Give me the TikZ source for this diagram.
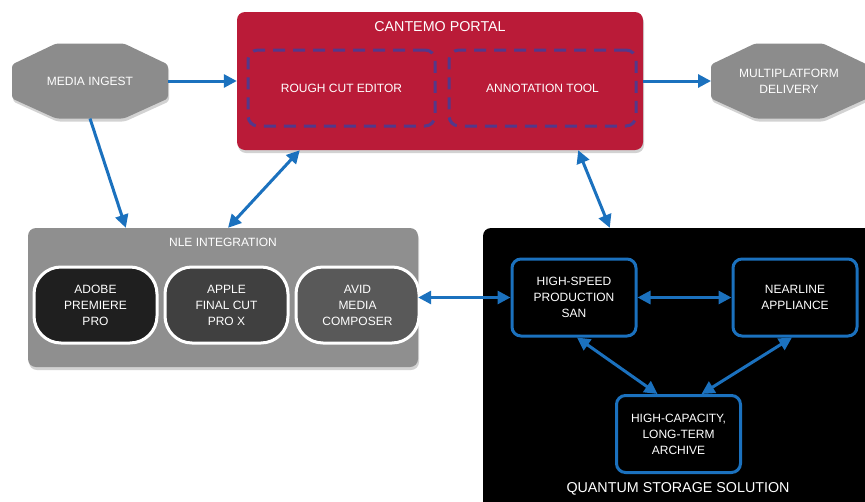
\documentclass[tikz,border=0pt]{standalone}
\usepackage{fontspec}
\setmainfont{Liberation Sans}
\usetikzlibrary{arrows.meta, positioning, shadows, backgrounds}

\definecolor{portalred}{RGB}{186,27,56}
\definecolor{toolblue}{RGB}{84,56,138}
\definecolor{linkblue}{RGB}{27,113,190}
\definecolor{octgray}{RGB}{140,140,140}
\definecolor{nlegray}{RGB}{143,143,143}

\begin{document}
\begin{tikzpicture}[x=1pt, y=-1pt, font=\fontsize{12}{16}\selectfont, text=white,
   octo/.style={minimum width=156pt, minimum height=75pt, inner sep=0pt, outer sep=0pt, align=center},
   shade/.style={drop shadow={opacity=0.35, shadow xshift=1pt, shadow yshift=-3pt}},
   panel/.style={rounded corners=8pt, inner sep=0pt},
   tool/.style={draw=toolblue, line width=3pt, dash pattern=on 12pt off 8pt, rounded corners=10pt,
      minimum width=187pt, minimum height=76pt},
   nle/.style={draw=white, line width=3pt, rounded corners=27pt, minimum width=123pt,
      minimum height=76pt, align=center},
   store/.style={draw=linkblue, fill=black, line width=3pt, rounded corners=9pt,
      minimum width=124pt, minimum height=77pt, align=center},
   flow/.style={-{Triangle[length=13pt,width=13pt]}, line width=3pt, draw=linkblue},
   both/.style={flow, {Triangle[length=13pt,width=13pt]}-{Triangle[length=13pt,width=13pt]}}]

   \begin{scope}[on background layer]
      \fill[white, use as bounding box] (0,0) rectangle (865,501);
   \end{scope}
   \clip (0,0) rectangle (865,501);

   % ingest and delivery
   \node (ingest)[octo] at (90,81) {MEDIA INGEST};
   \node (delivery)[octo] at (789,81) {MULTIPLATFORM\\DELIVERY};
   \begin{scope}[on background layer]
      \foreach \o in {ingest, delivery}
         \fill[octgray, shade, rounded corners=3pt] ([xshift=44pt]\o.north west) -- ([xshift=-44pt]\o.north east)
            -- ([yshift=-21pt]\o.north east) -- ([yshift=20pt]\o.south east)
            -- ([xshift=-44pt]\o.south east) -- ([xshift=44pt]\o.south west)
            -- ([yshift=20pt]\o.south west) -- ([yshift=-21pt]\o.north west) -- cycle;
   \end{scope}

   % portal
   \node (portal)[panel, shade, fill=portalred, minimum width=406pt, minimum height=138pt] at (440,81) {};
   \node (portaltitle) at (440,27) {\fontsize{14.3}{16}\selectfont CANTEMO PORTAL};
   \node (roughcut)[tool] at (341.5,88) {ROUGH CUT EDITOR};
   \node (annotation)[tool, right = 11pt of roughcut] {ANNOTATION TOOL};

   % nle
   \node (nlebox)[panel, shade, fill=nlegray, minimum width=390pt, minimum height=139pt] at (223,297.5) {};
   \node (nletitle) at (223,242) {NLE INTEGRATION};
   \node (premiere)[nle, fill=black!88] at (95.5,305) {ADOBE\\PREMIERE\\PRO};
   \node (finalcut)[nle, fill=black!75, right = 5pt of premiere] {APPLE\\FINAL CUT\\PRO X};
   \node (composer)[nle, fill=black!65, right = 5pt of finalcut] {AVID\\MEDIA\\COMPOSER};

   % quantum
   \node (quantum)[panel, fill=black, minimum width=392pt, minimum height=282pt] at (679,369) {};
   \node (quantumtitle) at (678,489) {\fontsize{14.3}{16}\selectfont QUANTUM STORAGE SOLUTION};
   \node (san)[store] at (574,297.5) {HIGH-SPEED\\PRODUCTION\\SAN};
   \node (nearline)[store] at (795,297.5) {NEARLINE\\APPLIANCE};
   \node (archive)[store] at (678.5,434) {HIGH-CAPACITY,\\LONG-TERM\\ARCHIVE};

   \draw[flow] (ingest) -- (portal);
   \draw[flow] (portal) -- (delivery);
   \draw[flow] (ingest.south) -- ([xshift=98pt]nlebox.north west);
   \draw[both] ([xshift=63pt]portal.south west) -- ([xshift=5pt]nlebox.north);
   \draw[both] ([xshift=-65pt]portal.south east) -- ([xshift=127pt]quantum.north west);
   \draw[both] (nlebox) -- (san);
   \draw[both] (san) -- (nearline);
   \draw[both] ([xshift=3pt]san.south) -- ([xshift=-21pt]archive.north);
   \draw[both] ([xshift=-3pt]nearline.south) -- ([xshift=23pt]archive.north);

\end{tikzpicture}
\end{document}
